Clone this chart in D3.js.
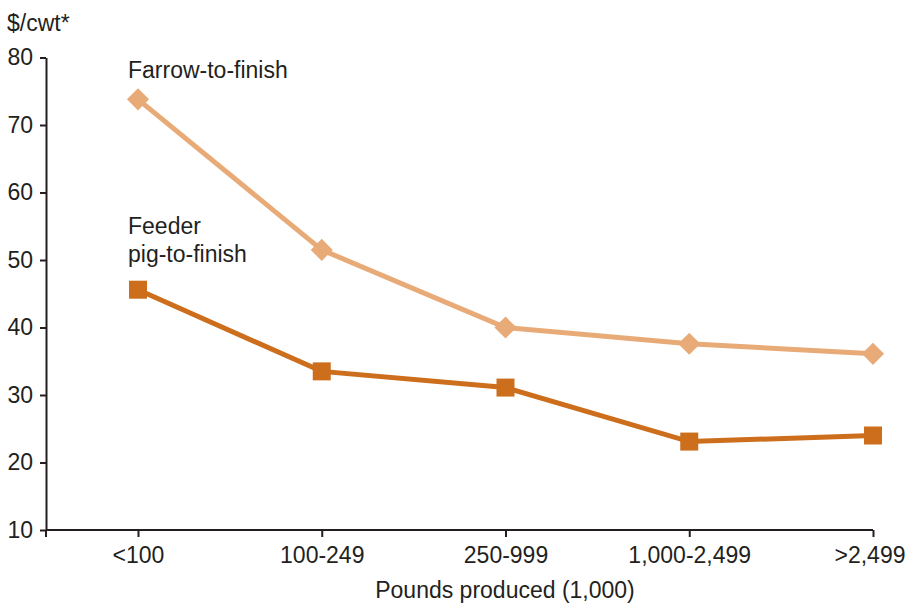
<!DOCTYPE html>
<html>
<head>
<meta charset="utf-8">
<script src="https://cdn.jsdelivr.net/npm/d3@7"></script>
<style>
  body { margin: 0; background: #fff; }
  text { font-family: "Liberation Sans", Arial, sans-serif; fill: #231f20; }
</style>
</head>
<body>
<script>
// data
const categories = ["<100", "100-249", "250-999", "1,000-2,499", ">2,499"];
const farrowToFinish = [73.8, 51.5, 40.0, 37.6, 36.1];
const feederPigToFinish = [45.6, 33.5, 31.1, 23.1, 24.0];
const yTicks = [10, 20, 30, 40, 50, 60, 70, 80];

const width = 908;
const height = 603;
const axisLeft = 46;
const axisBottom = 530;
const fontSize = 23;

const svg = d3.select("body")
    .append("svg")
    .attr("width", width)
    .attr("height", height);

// scales
const x = d3.scalePoint().domain(categories).range([138, 873]);
const y = d3.scaleLinear().domain([10, 80]).range([axisBottom, 57.5]);

const ink = "#231f20";

// y axis
const yAxis = svg.append("g")
    .attr("transform", `translate(${axisLeft},0)`)
    .call(d3.axisLeft(y).tickValues(yTicks).tickSize(6).tickPadding(7).tickSizeOuter(0));
yAxis.select(".domain").attr("stroke", ink).attr("stroke-width", 2);
yAxis.selectAll(".tick line").attr("stroke", ink).attr("stroke-width", 2);
yAxis.selectAll(".tick text").attr("font-size", fontSize).style("font-family", "Liberation Sans, Arial, sans-serif").attr("fill", ink);

// x axis
const xAxis = svg.append("g")
    .attr("transform", `translate(0,${axisBottom})`)
    .call(d3.axisBottom(x).tickSize(7).tickPadding(10).tickSizeOuter(0));
xAxis.select(".domain").attr("d", `M${axisLeft},0H873`).attr("stroke", ink).attr("stroke-width", 2);
xAxis.selectAll(".tick line").attr("stroke", ink).attr("stroke-width", 2);
xAxis.selectAll(".tick text").attr("font-size", fontSize).style("font-family", "Liberation Sans, Arial, sans-serif").attr("fill", ink);
// keep the last label inside the page
xAxis.selectAll(".tick text").filter(d => d === ">2,499").attr("text-anchor", "end").attr("x", 32);
// extra tick at the left end of x axis
svg.append("line")
    .attr("x1", axisLeft).attr("x2", axisLeft)
    .attr("y1", axisBottom).attr("y2", axisBottom + 7)
    .attr("stroke", ink).attr("stroke-width", 2);

// titles
svg.append("text").attr("x", 7).attr("y", 31).attr("font-size", fontSize).text("$/cwt*");
svg.append("text").attr("x", 505).attr("y", 598).attr("font-size", fontSize)
    .attr("text-anchor", "middle").text("Pounds produced (1,000)");

// lines
const line = d3.line().x((d, i) => x(categories[i])).y(d => y(d));

const series = [
    { values: farrowToFinish, color: "#e8ab78", symbol: d3.symbolSquare, size: 245, rotate: 45 },
    { values: feederPigToFinish, color: "#cc6e1c", symbol: d3.symbolSquare, size: 324, rotate: 0 }
];

series.forEach(s => {
    svg.append("path")
        .datum(s.values)
        .attr("fill", "none")
        .attr("stroke", s.color)
        .attr("stroke-width", 5)
        .attr("d", line);
    svg.selectAll(null)
        .data(s.values)
        .enter()
        .append("path")
        .attr("d", d3.symbol().type(s.symbol).size(s.size))
        .attr("transform", (d, i) => `translate(${x(categories[i])},${y(d)}) rotate(${s.rotate})`)
        .attr("fill", s.color);
});

// labels
svg.append("text").attr("x", 128).attr("y", 78).attr("font-size", fontSize).text("Farrow-to-finish");
svg.append("text").attr("x", 128).attr("y", 234).attr("font-size", fontSize).text("Feeder");
svg.append("text").attr("x", 128).attr("y", 262).attr("font-size", fontSize).text("pig-to-finish");
</script>
</body>
</html>
